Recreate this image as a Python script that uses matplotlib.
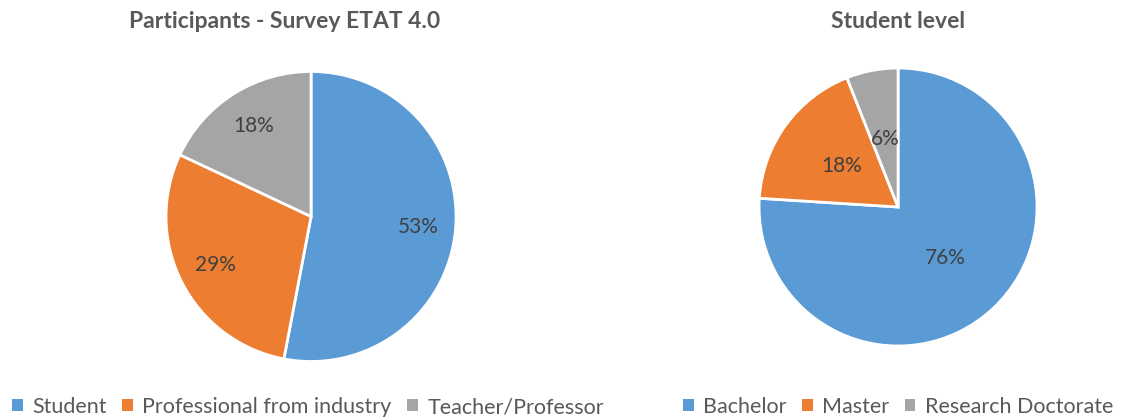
import matplotlib.pyplot as plt
from matplotlib.patches import Patch

plt.rcParams['font.family'] = ['Lato', 'DejaVu Sans']

# data
part_labels = ['Student', 'Professional from industry', 'Teacher/Professor']
part_values = [53, 29, 18]
level_labels = ['Bachelor', 'Master', 'Research Doctorate']
level_values = [76, 18, 6]

colors = ['#5B9BD5', '#ED7D31', '#A5A5A5']
text_col = '#404040'
title_col = '#595959'

fig = plt.figure(figsize=(11.28, 4.2), dpi=100)


def draw_pie(rect, values, labels, title, pctdist, title_xy, legend_x):
    ax = fig.add_axes(rect)
    wedges, _, autotexts = ax.pie(values, colors=colors, startangle=90, counterclock=False,
                                  autopct=lambda p: f'{p:.0f}%', pctdistance=pctdist,
                                  wedgeprops=dict(edgecolor='white', linewidth=2),
                                  textprops=dict(color=text_col, fontsize=15))
    ax.set_xlim(-1, 1)
    ax.set_ylim(-1, 1)
    ax.set_aspect('equal')
    fig.text(title_xy[0] / 1128, 1 - title_xy[1] / 420, title, ha='center', va='center',
             fontsize=16.5, fontweight='bold', color=title_col)
    handles = [Patch(facecolor=c, edgecolor='none') for c in colors]
    fig.legend(handles, labels, loc='center left', bbox_to_anchor=(legend_x / 1128, 1 - 407 / 420),
               ncol=3, frameon=False, fontsize=15.5, handlelength=0.5, handleheight=0.5,
               handletextpad=0.45, columnspacing=0.7, labelcolor=title_col, borderpad=0, borderaxespad=0)


draw_pie([0.1472, 0.1393, 0.2571, 0.6905], part_values, part_labels,
         'Participants - Survey ETAT 4.0', 0.74, (285, 22), 12)
draw_pie([0.6729, 0.1762, 0.2465, 0.6619], level_values, level_labels,
         'Student level', 0.5, (898, 21), 683)

fig.savefig('out.png', dpi=100)
